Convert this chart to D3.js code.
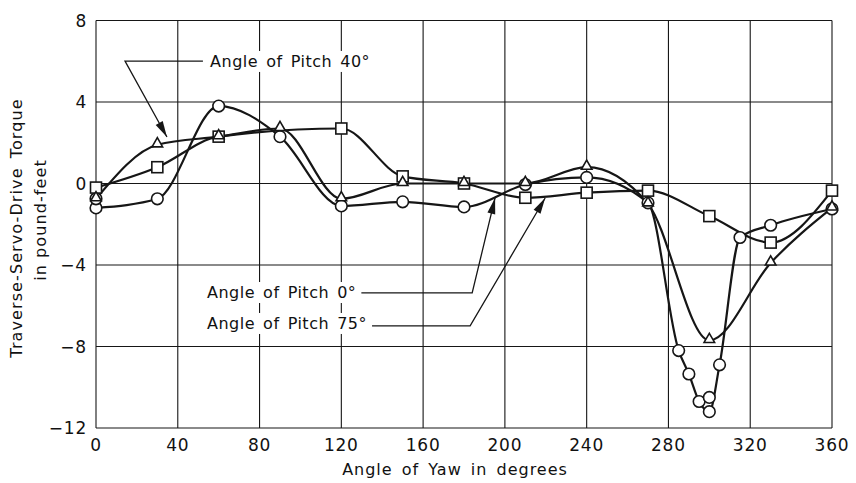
<!DOCTYPE html>
<html><head><meta charset="utf-8">
<script src="https://cdn.jsdelivr.net/npm/d3@7"></script>
<style>
html,body{margin:0;padding:0;background:#fff;}
text{font-family:"DejaVu Sans",sans-serif;fill:#111;}
</style></head>
<body><svg id="c" width="856" height="483"></svg>
<script>
// ---- data ----
const yawPitch0   = [0, 30, 60, 90, 120, 150, 180, 210, 240, 270, 285, 290, 295, 300, 305, 315, 330, 360];
const torquePitch0= [-1.2, -0.75, 3.8, 2.3, -1.1, -0.9, -1.15, -0.05, 0.3, -0.95, -8.2, -9.35, -10.7, -11.2, -8.9, -2.65, -2.05, -1.25];
const yawPitch0Extra    = [0, 300];
const torquePitch0Extra = [-0.75, -10.5];
const yawPitch40   = [0, 30, 60, 90, 120, 150, 180, 210, 240, 270, 300, 330, 360];
const torquePitch40= [-0.75, 1.9, 2.3, 2.7, -0.75, 0.0, 0.0, 0.0, 0.8, -1.0, -7.7, -3.9, -1.2];
const yawPitch75   = [0, 30, 60, 120, 150, 180, 210, 240, 270, 300, 330, 360];
const torquePitch75= [-0.2, 0.8, 2.3, 2.7, 0.35, 0.0, -0.7, -0.45, -0.35, -1.6, -2.9, -0.35];
const xTicks = [0, 40, 80, 120, 160, 200, 240, 280, 320, 360];
const yTicks = [8, 4, 0, -4, -8, -12];
const xTitle = "Angle of Yaw in degrees";
const yTitle1 = "Traverse-Servo-Drive Torque";
const yTitle2 = "in pound-feet";
// annotations (data units)
const annotLabels = ["Angle of Pitch 40°", "Angle of Pitch 0°", "Angle of Pitch 75°"];
const annotTextPos = [[55.8, 5.72], [54.3, -5.62], [54.3, -7.14]];
const annotPaths = [
  [[52.3, 6.01], [14.2, 6.01], [34.7, 2.28]],
  [[null, -5.37], [184.0, -5.37], [195.2, -0.71]],
  [[null, -6.99], [183.0, -6.99], [219.7, -0.71]]
];

// ---- chart ----
const svg = d3.select("#c");
const x = d3.scaleLinear().domain([0, 360]).range([96, 832]);
const y = d3.scaleLinear().domain([-12, 8]).range([428, 20.5]);
const ink = "#161616";

const grid = svg.append("g");
grid.selectAll("line.v").data(xTicks).join("line")
  .attr("x1", d => x(d)).attr("x2", d => x(d)).attr("y1", y(8)).attr("y2", y(-12))
  .attr("stroke", ink).attr("stroke-width", 1.1);
grid.selectAll("line.h").data(yTicks).join("line")
  .attr("y1", d => y(d)).attr("y2", d => y(d)).attr("x1", x(0)).attr("x2", x(360))
  .attr("stroke", ink).attr("stroke-width", 1.1);

// axes labels
svg.append("g").selectAll("text").data(xTicks).join("text")
  .attr("x", d => x(d)).attr("y", 451).attr("text-anchor", "middle")
  .style("font-size", "17px").style("letter-spacing", "0.8px").text(d => d);
svg.append("g").selectAll("text").data(yTicks).join("text")
  .attr("x", 87).attr("y", d => y(d) + 6).attr("text-anchor", "end")
  .style("font-size", "17px").style("letter-spacing", "0.8px")
  .text(d => d < 0 ? "\u2212" + Math.abs(d) : d);
svg.append("text").attr("x", 455).attr("y", 475).attr("text-anchor", "middle")
  .style("font-size", "16px").style("letter-spacing", "1px").style("word-spacing", "3px").text(xTitle);
svg.append("text").attr("transform", "translate(22,228) rotate(-90)").attr("text-anchor", "middle")
  .style("font-size", "16px").style("letter-spacing", "1.1px").style("word-spacing", "3px").text(yTitle1);
svg.append("text").attr("transform", "translate(46,220) rotate(-90)").attr("text-anchor", "middle")
  .style("font-size", "16px").style("letter-spacing", "1.1px").text(yTitle2);

// annotations
const ann = svg.append("g");
annotLabels.forEach((lab, i) => {
  const t = ann.append("text").attr("x", x(annotTextPos[i][0])).attr("y", y(annotTextPos[i][1]))
    .style("font-size", "16px").style("letter-spacing", "0.5px").style("word-spacing", "2.5px").text(lab);
  const bb = t.node().getBBox();
  ann.insert("rect", "text").attr("x", bb.x - 3).attr("y", bb.y - 1).attr("width", bb.width + 6).attr("height", bb.height + 2).attr("fill", "#fff");
  const pts = annotPaths[i].map((p, j) => j === 0 && p[0] === null ? [bb.x + bb.width + 5, y(p[1])] : [x(p[0]), y(p[1])]);
  ann.append("path").attr("d", d3.line()(pts)).attr("fill", "none").attr("stroke", ink).attr("stroke-width", 1.3);
  const [a, b] = [pts[pts.length - 2], pts[pts.length - 1]];
  const ang = Math.atan2(b[1] - a[1], b[0] - a[0]);
  const L = 16, W = 4;
  const bx = b[0] - L * Math.cos(ang), by = b[1] - L * Math.sin(ang);
  const nx = -Math.sin(ang) * W, ny = Math.cos(ang) * W;
  ann.append("path").attr("d", `M${b[0]},${b[1]}L${bx + nx},${by + ny}L${bx - nx},${by - ny}Z`).attr("fill", ink);
});

// curves
const line = d3.line().x(d => x(d[0])).y(d => y(d[1])).curve(d3.curveMonotoneX);
const s0 = yawPitch0.map((v, i) => [v, torquePitch0[i]]);
const s40 = yawPitch40.map((v, i) => [v, torquePitch40[i]]);
const s75 = yawPitch75.map((v, i) => [v, torquePitch75[i]]);
[s0, s40, s75].forEach(s => svg.append("path").attr("d", line(s)).attr("fill", "none")
  .attr("stroke", ink).attr("stroke-width", 2.2));

// markers
const mk = svg.append("g").attr("fill", "#fff").attr("stroke", ink).attr("stroke-width", 1.6);
const ex = yawPitch0Extra.map((v, i) => [v, torquePitch0Extra[i]]);
mk.selectAll("circle").data(s0.concat(ex)).join("circle")
  .attr("cx", d => x(d[0])).attr("cy", d => y(d[1])).attr("r", 5.8);
mk.selectAll("rect").data(s75).join("rect")
  .attr("x", d => x(d[0]) - 5.5).attr("y", d => y(d[1]) - 5.5).attr("width", 11).attr("height", 11);
mk.selectAll("path").data(s40).join("path")
  .attr("d", d3.symbol().type(d3.symbolTriangle).size(48))
  .attr("transform", d => `translate(${x(d[0])},${y(d[1]) - 1})`);
</script></body></html>
